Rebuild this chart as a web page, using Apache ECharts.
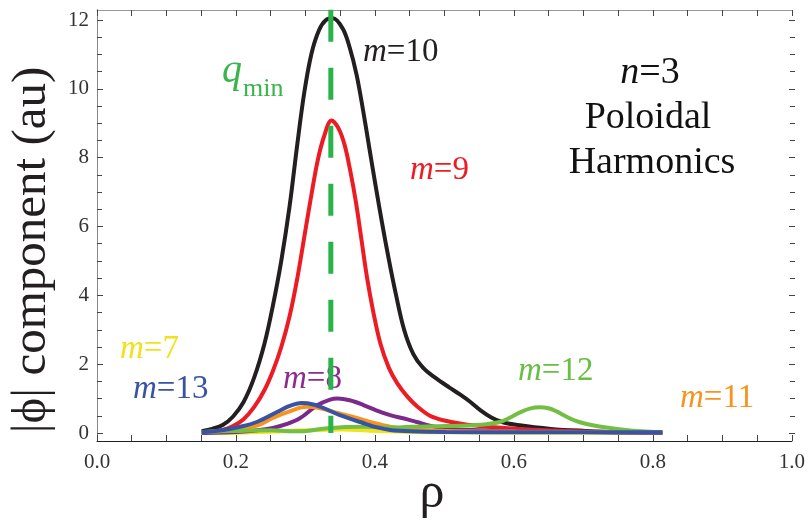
<!DOCTYPE html>
<html>
<head>
<meta charset="utf-8">
<script src="https://cdn.jsdelivr.net/npm/echarts@6/dist/echarts.min.js"></script>
<style>
  html, body { margin: 0; padding: 0; background: #fff; }
  #chart { width: 808px; height: 523px; }
</style>
</head>
<body>
<div id="chart"></div>
<script>
// rho position of q_min
const qMin = 0.335

// m=10 (black)
const rhoM10 = [0.15, 0.165, 0.18, 0.195, 0.21, 0.225, 0.24, 0.252, 0.264, 0.276, 0.287, 0.297, 0.307, 0.318, 0.328, 0.338, 0.352, 0.362, 0.372, 0.381, 0.39, 0.399, 0.408, 0.418, 0.428, 0.44, 0.453, 0.467, 0.485, 0.505, 0.52, 0.535, 0.55, 0.565, 0.58, 0.60, 0.65, 0.70, 0.75, 0.81]
const ampM10 = [0.05, 0.12, 0.23, 0.48, 0.9, 1.6, 2.6, 3.7, 5.0, 6.6, 8.4, 9.9, 11.0, 11.7, 12.0, 12.05, 11.75, 11.2, 10.4, 9.4, 8.3, 7.2, 6.15, 5.05, 4.05, 3.0, 2.3, 1.9, 1.6, 1.32, 1.12, 0.9, 0.65, 0.45, 0.32, 0.24, 0.12, 0.06, 0.02, 0.0]

// m=9 (red)
const rhoM9 = [0.15, 0.165, 0.18, 0.195, 0.21, 0.225, 0.24, 0.252, 0.264, 0.276, 0.287, 0.297, 0.307, 0.316, 0.325, 0.336, 0.346, 0.355, 0.363, 0.371, 0.379, 0.387, 0.396, 0.406, 0.418, 0.43, 0.445, 0.46, 0.477, 0.496, 0.524, 0.56, 0.60, 0.65, 0.70, 0.81]
const ampM9 = [0.02, 0.04, 0.09, 0.2, 0.4, 0.75, 1.25, 1.8, 2.5, 3.4, 4.5, 5.7, 6.9, 7.9, 8.6, 9.08, 8.85, 8.35, 7.6, 6.7, 5.6, 4.5, 3.5, 2.6, 1.9, 1.45, 1.05, 0.75, 0.5, 0.37, 0.26, 0.18, 0.12, 0.07, 0.04, 0.0]

// m=7 (yellow)
const rhoM7 = [0.15, 0.2, 0.25, 0.3, 0.35, 0.4, 0.45, 0.5, 0.6, 0.81]
const ampM7 = [0.0, 0.01, 0.04, 0.08, 0.1, 0.06, 0.03, 0.02, 0.01, 0.0]

// m=8 (purple)
const rhoM8 = [0.15, 0.2, 0.23, 0.252, 0.27, 0.29, 0.315, 0.334, 0.345, 0.362, 0.381, 0.40, 0.42, 0.44, 0.458, 0.48, 0.50, 0.55, 0.6, 0.7, 0.81]
const ampM8 = [0.0, 0.03, 0.08, 0.15, 0.25, 0.42, 0.8, 0.97, 1.0, 0.95, 0.82, 0.66, 0.52, 0.42, 0.32, 0.2, 0.12, 0.08, 0.06, 0.03, 0.0]

// m=11 (orange)
const rhoM11 = [0.15, 0.2, 0.23, 0.252, 0.28, 0.30, 0.32, 0.345, 0.372, 0.395, 0.42, 0.45, 0.5, 0.6, 0.81]
const ampM11 = [0.02, 0.1, 0.22, 0.44, 0.66, 0.76, 0.72, 0.58, 0.44, 0.3, 0.18, 0.1, 0.06, 0.04, 0.02]

// m=12 (green)
const rhoM12 = [0.15, 0.2, 0.25, 0.28, 0.30, 0.33, 0.38, 0.42, 0.45, 0.50, 0.55, 0.577, 0.592, 0.606, 0.62, 0.634, 0.647, 0.659, 0.672, 0.686, 0.70, 0.72, 0.745, 0.78, 0.81]
const ampM12 = [0.03, 0.06, 0.08, 0.05, 0.06, 0.14, 0.18, 0.16, 0.18, 0.2, 0.24, 0.32, 0.45, 0.6, 0.71, 0.75, 0.72, 0.62, 0.48, 0.35, 0.27, 0.19, 0.12, 0.05, 0.02]

// m=13 (blue)
const rhoM13 = [0.15, 0.181, 0.205, 0.229, 0.258, 0.275, 0.293, 0.31, 0.324, 0.348, 0.381, 0.40, 0.42, 0.45, 0.5, 0.6, 0.81]
const ampM13 = [0.02, 0.09, 0.18, 0.32, 0.61, 0.78, 0.87, 0.83, 0.73, 0.52, 0.29, 0.17, 0.09, 0.05, 0.03, 0.02, 0.02]

const xTicks = [0.0, 0.2, 0.4, 0.6, 0.8, 1.0]
const yTicks = [0, 2, 4, 6, 8, 10, 12]

const serif = 'Times New Roman'

function pairs(xs, ys) {
  return xs.map((x, i) => [x, ys[i]])
}

function curve(name, xs, ys, color) {
  return {
    name: name,
    type: 'line',
    xAxisIndex: 2,
    yAxisIndex: 2,
    data: pairs(xs, ys),
    smooth: 0.35,
    showSymbol: false,
    clip: false,
    lineStyle: { color: color, width: 4 },
    itemStyle: { color: color }
  }
}

// italic letter followed by "=value"
function eqLabel(x, y, letter, num, size, color, align) {
  return {
    type: 'text',
    x: x,
    y: y,
    style: {
      text: '{i|' + letter + '}{r|=' + num + '}',
      align: align || 'left',
      verticalAlign: 'middle',
      rich: {
        i: { fontStyle: 'italic', fontSize: size, fontFamily: serif, fill: color },
        r: { fontSize: size, fontFamily: serif, fill: color }
      }
    }
  }
}

function plainText(x, y, text, size, color, extra) {
  return {
    type: 'text',
    x: x,
    y: y,
    rotation: (extra && extra.rotation) || 0,
    style: {
      text: text,
      fontSize: size,
      fontFamily: serif,
      fontStyle: (extra && extra.italic) ? 'italic' : 'normal',
      align: (extra && extra.align) || 'center',
      verticalAlign: 'middle',
      fill: color
    }
  }
}

const tickColor = '#444'

const chart = echarts.init(document.getElementById('chart'))
const option = {
  animation: false,
  textStyle: { fontFamily: serif },
  grid: [
    { left: 97, right: 13, top: 10, bottom: 82 },
    { left: 97, right: 13, top: 20, bottom: 90 }
  ],
  xAxis: [
    {
      gridIndex: 0, type: 'value', min: 0, max: 1, interval: 0.2, position: 'bottom',
      axisLine: { onZero: false, lineStyle: { color: '#222', width: 1 } },
      axisTick: { inside: true, length: 6, lineStyle: { color: tickColor } },
      minorTick: { show: true, splitNumber: 4, length: 6, lineStyle: { color: tickColor } },
      splitLine: { show: false },
      axisLabel: {
        fontSize: 21, fontFamily: serif, color: '#333', margin: 11,
        formatter: v => xTicks.some(t => Math.abs(t - v) < 1e-6) ? v.toFixed(1) : ''
      }
    },
    {
      gridIndex: 0, type: 'value', min: 0, max: 1, interval: 0.2, position: 'top',
      axisLine: { onZero: false, lineStyle: { color: '#999', width: 1 } },
      axisTick: { inside: true, length: 6, lineStyle: { color: tickColor } },
      minorTick: { show: true, splitNumber: 4, length: 6, lineStyle: { color: tickColor } },
      splitLine: { show: false },
      axisLabel: { show: false }
    },
    { gridIndex: 1, type: 'value', min: 0, max: 1, show: false }
  ],
  yAxis: [
    {
      gridIndex: 0, type: 'value', min: 0, max: 1, position: 'left',
      axisLine: { show: true, lineStyle: { color: '#222', width: 1 } },
      axisTick: { show: false }, axisLabel: { show: false }, splitLine: { show: false }
    },
    {
      gridIndex: 0, type: 'value', min: 0, max: 1, position: 'right',
      axisLine: { show: true, lineStyle: { color: '#888', width: 1 } },
      axisTick: { show: false }, axisLabel: { show: false }, splitLine: { show: false }
    },
    {
      gridIndex: 1, type: 'value', min: 0, max: 12, interval: 2, position: 'left',
      axisLine: { show: false },
      axisTick: { show: true, inside: true, length: 6, lineStyle: { color: tickColor } },
      minorTick: { show: true, splitNumber: 4, length: 5, lineStyle: { color: tickColor } },
      splitLine: { show: false },
      axisLabel: {
        fontSize: 21, fontFamily: serif, color: '#333', margin: 8,
        formatter: v => yTicks.indexOf(v) >= 0 ? String(v) : ''
      }
    },
    {
      gridIndex: 1, type: 'value', min: 0, max: 12, interval: 2, position: 'right',
      axisLine: { show: false },
      axisTick: { show: true, inside: true, length: 6, lineStyle: { color: tickColor } },
      minorTick: { show: true, splitNumber: 4, length: 5, lineStyle: { color: tickColor } },
      splitLine: { show: false },
      axisLabel: { show: false }
    }
  ],
  series: [
    curve('m=10', rhoM10, ampM10, '#231f20'),
    curve('m=9', rhoM9, ampM9, '#ed1c24'),
    curve('m=7', rhoM7, ampM7, '#f2e41c'),
    curve('m=8', rhoM8, ampM8, '#7b2a8c'),
    curve('m=11', rhoM11, ampM11, '#f7941d'),
    curve('m=12', rhoM12, ampM12, '#72bf44'),
    curve('m=13', rhoM13, ampM13, '#3953a4'),
    {
      name: 'qmin',
      type: 'line',
      xAxisIndex: 2,
      yAxisIndex: 2,
      data: [[qMin, 12.3], [qMin, 0]],
      showSymbol: false,
      clip: false,
      lineStyle: { color: '#2bb34b', width: 5, type: [32, 26] }
    }
  ],
  graphic: [
    plainText(32, 250, '|\u03d5| component (au)', 49, '#231f20', { rotation: Math.PI / 2 }),
    plainText(432, 494, '\u03c1', 50, '#231f20'),
    plainText(222, 71, 'q', 40, '#39b54a', { italic: true, align: 'left' }),
    plainText(243, 89, 'min', 26, '#39b54a', { align: 'left' }),
    eqLabel(650, 73, 'n', '3', 38, '#111', 'center'),
    plainText(648, 118, 'Poloidal', 38, '#111'),
    plainText(652, 163, 'Harmonics', 38, '#111'),
    eqLabel(363, 52, 'm', '10', 33, '#231f20'),
    eqLabel(410, 170, 'm', '9', 33, '#ed1c24'),
    eqLabel(120, 349, 'm', '7', 33, '#eee21b'),
    eqLabel(133, 389, 'm', '13', 33, '#3953a4'),
    eqLabel(283, 379, 'm', '8', 33, '#8e2b8f'),
    eqLabel(518, 371, 'm', '12', 33, '#6abd45'),
    eqLabel(680, 398, 'm', '11', 33, '#f7941d')
  ]
}
chart.setOption(option)
</script>
</body>
</html>
